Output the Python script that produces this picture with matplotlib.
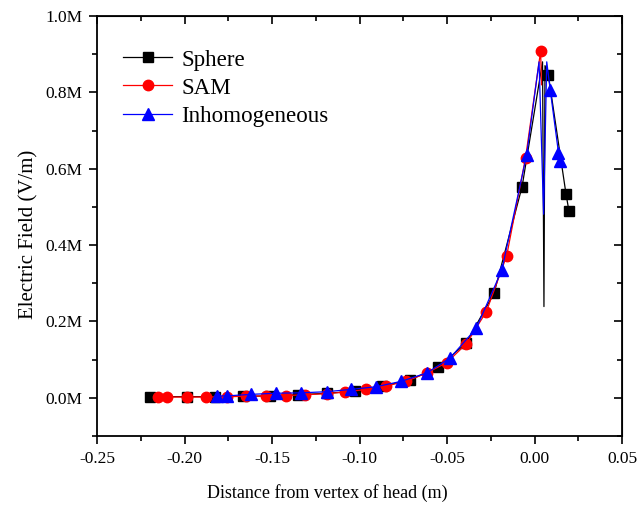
import matplotlib
matplotlib.use("Agg")
import matplotlib.pyplot as plt
from matplotlib.ticker import MultipleLocator, FuncFormatter

# Sphere (full line path; markers at sphere_marks)
sphere_x = [-0.2197, -0.1987, -0.1826, -0.1666, -0.1511, -0.1351, -0.1187, -0.1026,
            -0.0871, -0.0711, -0.0551, -0.0391, -0.0231, -0.0071,
            0.0046, 0.0054, 0.0060,
            0.0079, 0.0180, 0.0197]
sphere_y = [0.003, 0.003, 0.003, 0.004, 0.005, 0.008, 0.012, 0.017,
            0.030, 0.047, 0.080, 0.143, 0.274, 0.553,
            0.880, 0.239, 0.870,
            0.846, 0.534, 0.489]
sphere_marks = [0, 1, 2, 3, 4, 5, 6, 7, 8, 9, 10, 11, 12, 13, 17, 18, 19]

# SAM
sam_x = [-0.2150, -0.2102, -0.1987, -0.1877, -0.1760, -0.1649, -0.1534, -0.1422,
         -0.1309, -0.1187, -0.1083, -0.0963, -0.0849, -0.0734, -0.0616, -0.0502,
         -0.0390, -0.0275, -0.0159, -0.0051, 0.0035, 0.0040]
sam_y = [0.002, 0.002, 0.002, 0.002, 0.003, 0.004, 0.005, 0.006,
         0.008, 0.011, 0.015, 0.022, 0.031, 0.043, 0.065, 0.092,
         0.141, 0.226, 0.372, 0.629, 0.908, 0.820]
sam_marks = list(range(21))

# Inhomogeneous
inh_x = [-0.1817, -0.1759, -0.1622, -0.1479, -0.1336, -0.1187, -0.1050, -0.0906,
         -0.0763, -0.0616, -0.0483, -0.0333, -0.0187, -0.0045,
         0.0026, 0.0052, 0.0070,
         0.0090, 0.0137, 0.0143]
inh_y = [0.005, 0.005, 0.009, 0.012, 0.013, 0.016, 0.022, 0.029,
         0.043, 0.065, 0.104, 0.182, 0.334, 0.636,
         0.880, 0.481, 0.880,
         0.806, 0.642, 0.619]
inh_marks = [0, 1, 2, 3, 4, 5, 6, 7, 8, 9, 10, 11, 12, 13, 17, 18, 19]

x_ticks = [-0.25, -0.20, -0.15, -0.10, -0.05, 0.00, 0.05]
y_ticks = [0.0, 0.2, 0.4, 0.6, 0.8, 1.0]

plt.rcParams['font.family'] = ['Liberation Serif', 'DejaVu Serif']

fig = plt.figure(figsize=(6.37, 5.08), dpi=100)
ax = fig.add_axes([97/637, 1-436/508, (622-97)/637, (436-16)/508])

ax.plot(sphere_x, sphere_y, color='black', lw=0.9, marker='s', ms=7,
        markevery=sphere_marks, label='Sphere', zorder=2)
ax.plot(sam_x, sam_y, color='red', lw=0.9, marker='o', ms=7.5,
        markevery=sam_marks, label='SAM', zorder=3)
ax.plot(inh_x, inh_y, color='blue', lw=0.9, marker='^', ms=8,
        markevery=inh_marks, label='Inhomogeneous', zorder=4)

ax.set_xlim(-0.25, 0.05)
ax.set_ylim(-0.1, 1.0)
ax.set_xticks(x_ticks)
ax.set_yticks(y_ticks)
ax.xaxis.set_minor_locator(MultipleLocator(0.025))
ax.yaxis.set_minor_locator(MultipleLocator(0.1))
ax.xaxis.set_major_formatter(FuncFormatter(lambda v, p: f"{v:.2f}"))
ax.yaxis.set_major_formatter(FuncFormatter(lambda v, p: f"{v:.1f}M"))

ax.tick_params(which='both', direction='out', top=False, right=False,
               labelsize=12.5, width=1.2, pad=4.5)
ax.tick_params(which='major', length=6)
ax.tick_params(which='minor', length=3.5)
for s in ax.spines.values():
    s.set_linewidth(1.3)

# inward ticks on top and right
axt = ax.secondary_xaxis('top')
axt.set_xticks(x_ticks)
axt.xaxis.set_minor_locator(MultipleLocator(0.025))
axt.tick_params(which='both', direction='in', labeltop=False, width=1.2)
axt.tick_params(which='major', length=6)
axt.tick_params(which='minor', length=3.5)
axr = ax.secondary_yaxis('right')
axr.set_yticks(y_ticks)
axr.yaxis.set_minor_locator(MultipleLocator(0.1))
axr.tick_params(which='both', direction='in', labelright=False, width=1.2)
axr.tick_params(which='major', length=6)
axr.tick_params(which='minor', length=3.5)

ax.set_xlabel('Distance from vertex of head (m)', fontsize=13)
ax.set_ylabel('Electric Field (V/m)', fontsize=15)
ax.xaxis.set_label_coords(0.438, -0.114)
ax.yaxis.set_label_coords(-0.111, 0.481)

ax.legend(loc='center left', bbox_to_anchor=(0.0495, 0.8286), frameon=False,
          fontsize=16.6, handlelength=2.13, borderpad=0, borderaxespad=0,
          labelspacing=0.3, handletextpad=0.39)

fig.savefig('out.png', dpi=100)
